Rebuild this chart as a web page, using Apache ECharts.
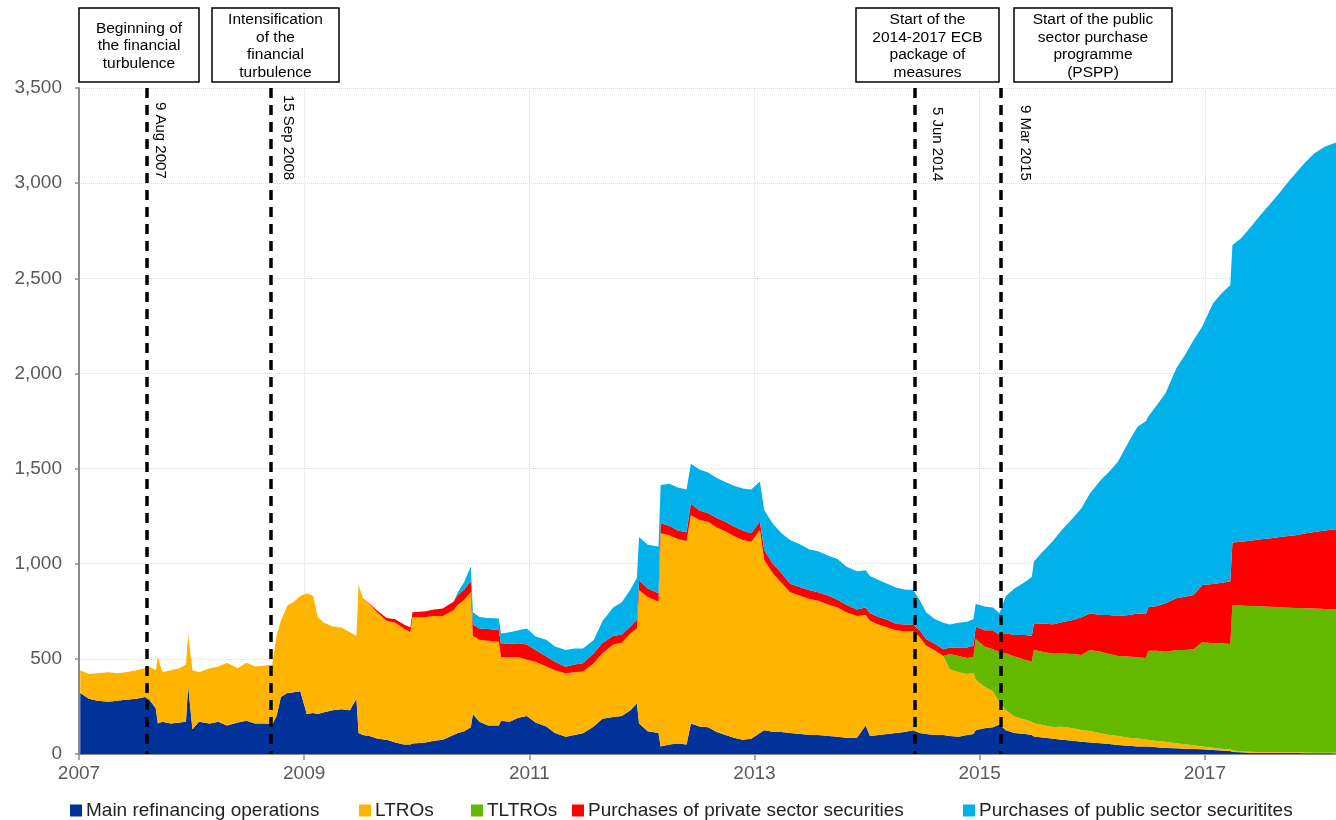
<!DOCTYPE html>
<html>
<head>
<meta charset="utf-8">
<title>Eurosystem monetary policy operations</title>
<script src="https://cdn.jsdelivr.net/npm/echarts@6/dist/echarts.min.js"></script>
<style>
  html, body { margin: 0; padding: 0; background: #fff; }
  #chart { width: 1336px; height: 820px; }
</style>
</head>
<body>
<div id="chart"></div>
<script>
// EUR billions (about monthly, with extra points at the jumps)
const dates = [
  '2007-01-05','2007-02-02','2007-03-02','2007-04-06','2007-05-04','2007-06-01','2007-07-06','2007-08-03','2007-08-17','2007-09-07',
  '2007-09-14','2007-09-28','2007-10-26','2007-11-23','2007-12-14','2007-12-21','2008-01-04','2008-01-25','2008-02-29','2008-03-28',
  '2008-04-25','2008-05-30','2008-06-27','2008-07-25','2008-08-29','2008-09-19','2008-10-03','2008-10-17','2008-11-07','2008-11-28',
  '2008-12-19','2009-01-09','2009-01-30','2009-02-13','2009-03-06','2009-04-03','2009-05-01','2009-05-29','2009-06-19','2009-06-26',
  '2009-07-10','2009-07-31','2009-08-28','2009-09-25','2009-10-23','2009-11-20','2009-12-11','2009-12-18','2010-01-29','2010-02-26',
  '2010-03-26','2010-04-30','2010-05-14','2010-06-04','2010-06-25','2010-07-02','2010-07-23','2010-08-20','2010-09-24','2010-10-01',
  '2010-10-29','2010-11-26','2010-12-24','2011-01-21','2011-02-25','2011-03-25','2011-04-29','2011-05-27','2011-06-24','2011-07-29',
  '2011-08-26','2011-09-30','2011-10-28','2011-11-25','2011-12-16','2011-12-23','2012-01-20','2012-02-24','2012-03-02','2012-03-30',
  '2012-04-27','2012-05-25','2012-06-08','2012-07-06','2012-08-03','2012-08-31','2012-09-28','2012-10-26','2012-11-23','2012-12-21',
  '2013-01-18','2013-02-01','2013-03-01','2013-03-29','2013-04-26','2013-05-31','2013-06-28','2013-07-26','2013-08-30','2013-09-27',
  '2013-10-25','2013-11-29','2013-12-27','2014-01-10','2014-02-07','2014-03-07','2014-04-04','2014-05-02','2014-05-30','2014-06-20',
  '2014-07-11','2014-08-08','2014-09-05','2014-09-26','2014-10-24','2014-11-21','2014-12-12','2014-12-19','2015-01-16','2015-02-13',
  '2015-03-06','2015-03-27','2015-04-24','2015-05-29','2015-06-19','2015-06-26','2015-07-31','2015-08-28','2015-09-25','2015-10-30',
  '2015-11-27','2015-12-25','2016-01-29','2016-02-26','2016-03-25','2016-04-29','2016-05-27','2016-06-24','2016-07-01','2016-07-29',
  '2016-08-26','2016-09-30','2016-10-28','2016-11-25','2016-12-23','2017-01-27','2017-02-24','2017-03-24','2017-03-31','2017-04-28',
  '2017-05-26','2017-06-30','2017-07-28','2017-08-25','2017-09-29','2017-10-27','2017-11-24','2017-12-22','2018-01-26','2018-03-02'
];
const mro = [
  320,290,280,275,280,285,290,300,285,240,
  160,170,160,165,170,360,130,170,160,170,
  150,165,175,160,160,155,200,300,320,325,
  330,210,215,210,220,230,235,230,290,110,
  100,95,80,75,60,50,50,55,60,70,
  75,100,110,120,140,210,170,150,150,175,
  170,190,200,165,145,110,91,100,109,144,
  185,195,200,230,265,160,120,110,40,50,
  55,50,160,145,140,115,100,85,75,80,
  110,125,117,115,110,105,100,100,95,90,
  85,85,150,95,100,105,110,115,125,110,
  105,100,100,95,90,100,105,125,135,140,
  155,125,110,105,100,92,85,80,75,70,
  65,61,56,53,47,44,40,39,39,35,
  32,30,28,26,25,21,18,16,11,9,
  7,7,6,6,5,5,4,4,4,4
];
const ltro = [
  120,130,145,155,145,145,150,150,175,200,
  350,260,280,285,300,270,310,260,290,290,
  330,285,305,300,305,315,420,400,460,475,
  500,635,615,510,470,440,430,410,330,780,
  720,695,660,625,630,610,590,663,660,655,
  650,655,675,690,710,410,430,445,440,335,
  340,320,295,320,315,330,333,330,324,333,
  345,380,385,405,395,700,705,690,1120,1100,
  1075,1070,1095,1085,1080,1075,1070,1060,1050,1035,
  1067,895,833,785,740,725,715,705,690,680,
  660,640,580,605,580,560,540,530,520,505,
  465,445,415,350,340,320,320,265,220,190,
  115,105,87,75,70,70,65,62,68,65,
  61,60,53,47,48,42,41,38,35,33,
  33,26,23,20,14,12,10,9,7,5,
  5,4,4,4,4,4,4,3,3,3
];
const tltro = [
  0,0,0,0,0,0,0,0,0,0,
  0,0,0,0,0,0,0,0,0,0,
  0,0,0,0,0,0,0,0,0,0,
  0,0,0,0,0,0,0,0,0,0,
  0,0,0,0,0,0,0,0,0,0,
  0,0,0,0,0,0,0,0,0,0,
  0,0,0,0,0,0,0,0,0,0,
  0,0,0,0,0,0,0,0,0,0,
  0,0,0,0,0,0,0,0,0,0,
  0,0,0,0,0,0,0,0,0,0,
  0,0,0,0,0,0,0,0,0,0,
  0,0,0,80,85,85,85,215,210,220,
  265,300,315,315,315,385,385,385,385,391,
  394,426,429,426,420,426,427,427,469,475,
  473,491,496,504,548,549,554,553,765,766,
  766,765,764,763,760,758,758,757,755,753
];
const privateSec = [
  0,0,0,0,0,0,0,0,0,0,
  0,0,0,0,0,0,0,0,0,0,
  0,0,0,0,0,0,0,0,0,0,
  0,0,0,0,0,0,0,0,0,0,
  0,2,10,15,18,20,25,27,30,35,
  40,45,50,55,60,60,60,62,62,68,
  70,72,80,62,53,45,35,40,44,52,
  53,45,43,35,45,53,45,45,52,50,
  45,45,60,50,45,50,50,50,50,45,
  45,52,50,50,45,45,45,45,45,40,
  40,35,40,40,40,40,35,35,35,35,
  35,35,35,35,45,55,60,65,85,100,
  90,105,113,130,135,140,150,155,165,178,
  198,192,193,205,210,219,231,235,228,235,
  254,271,280,286,301,312,318,328,328,336,
  343,352,359,366,377,384,394,403,412,421
];
const publicSec = [
  0,0,0,0,0,0,0,0,0,0,
  0,0,0,0,0,0,0,0,0,0,
  0,0,0,0,0,0,0,0,0,0,
  0,0,0,0,0,0,0,0,0,0,
  0,0,0,0,0,0,0,0,0,0,
  0,0,15,40,75,65,60,58,60,55,
  60,68,85,70,87,80,88,85,78,70,
  115,150,170,195,220,227,230,245,202,220,
  225,225,210,215,215,210,210,215,220,230,
  210,210,210,210,230,225,215,215,210,215,
  200,200,195,195,195,190,190,185,182,160,
  140,130,140,120,130,135,140,120,125,120,
  115,195,245,280,310,325,390,440,485,535,
  573,631,709,753,812,911,981,1011,1002,1056,
  1104,1209,1270,1340,1358,1475,1521,1559,1564,1594,
  1642,1705,1752,1799,1862,1910,1953,1990,2018,2032
];
const seriesNames = [
  'Main refinancing operations',
  'LTROs',
  'TLTROs',
  'Purchases of private sector securities',
  'Purchases of public sector securitites'
];
const eventDates = ['2007-08-09', '2008-09-15', '2014-06-05', '2015-03-09'];
const eventLabels = ['9 Aug 2007', '15 Sep 2008', '5 Jun 2014', '9 Mar 2015'];
const noteTexts = [
  'Beginning of\nthe financial\nturbulence',
  'Intensification\nof the\nfinancial\nturbulence',
  'Start of the\n2014-2017 ECB\npackage of\nmeasures',
  'Start of the public\nsector purchase\nprogramme\n(PSPP)'
];

const colors = ['#003299', '#FFB400', '#65B800', '#FF0000', '#00B1EA'];
const font = 'Arial, "Liberation Sans", sans-serif';
const greyText = '#595959';
const axisGrey = '#8c8c8c';

const chart = echarts.init(document.getElementById('chart'), null, { renderer: 'canvas' });

const values = [mro, ltro, tltro, privateSec, publicSec];

// label offsets along / away from each dashed line
const labelDist = [[14, 6], [7, 10], [19, 15], [17, 17]];
const eventLines = eventDates.map((d, i) => [
  { name: eventLabels[i], xAxis: d, yAxis: 3500, label: { distance: labelDist[i] } },
  { xAxis: d, yAxis: 0 }
]);

const series = values.map((arr, i) => {
  let s = {
    name: seriesNames[i],
    type: 'line',
    stack: 'total',
    xAxisIndex: 0,
    symbol: 'none',
    showSymbol: false,
    lineStyle: { width: 0 },
    areaStyle: { color: colors[i], opacity: 1 },
    itemStyle: { color: colors[i] },
    emphasis: { disabled: true },
    data: arr.map((v, k) => [dates[k], v])
  };
  if (i === values.length - 1) {
    s.markLine = {
      silent: true,
      symbol: ['none', 'none'],
      z: 10,
      lineStyle: { color: '#000', width: 3.5, type: [10, 7] },
      label: {
        show: true,
        position: 'insideStartTop',
        formatter: '{b}',
        color: '#000',
        fontSize: 15,
        fontFamily: font
      },
      data: eventLines
    };
  }
  return s;
});

// annotation boxes above the plot
const boxes = [
  { x: 79, w: 120 },
  { x: 212, w: 127 },
  { x: 856, w: 143 },
  { x: 1014, w: 158 }
];
const graphic = boxes.map((b, i) => ({
  type: 'group',
  x: b.x,
  y: 8,
  children: [
    { type: 'rect', shape: { x: 0, y: 0, width: b.w, height: 74 },
      style: { fill: '#fff', stroke: '#000', lineWidth: 1.5 } },
    { type: 'text', x: b.w / 2, y: 38,
      style: { text: noteTexts[i], align: 'center', verticalAlign: 'middle',
               fontSize: 15.5, fontFamily: font, lineHeight: 17.5, fill: '#000' } }
  ]
}));

// one legend per item, the gaps in the original are uneven
const legendLeft = [65, 354, 466, 567, 958];
const legend = seriesNames.map((n, i) => ({
  data: [n],
  left: legendLeft[i],
  top: 796,
  icon: 'rect',
  itemWidth: 12,
  itemHeight: 12,
  selectedMode: false,
  textStyle: { fontSize: 19, fontFamily: font, color: '#222', padding: [0, 0, 0, -1] }
}));

const option = {
  animation: false,
  backgroundColor: '#fff',
  color: colors,
  grid: { left: 79, right: 0, top: 88, bottom: 66, outerBoundsMode: 'none' },
  legend: legend,
  graphic: { elements: graphic },
  xAxis: [
    {
      type: 'time',
      min: '2007-01-01',
      max: '2018-03-02',
      show: false
    },
    {
      // year scale drawn over the same span, labels every second year
      type: 'value',
      min: 2007,
      max: 2018.165,
      interval: 2,
      position: 'bottom',
      axisLine: { show: true, lineStyle: { color: axisGrey, width: 2 } },
      axisTick: { show: true, inside: false, length: 6, lineStyle: { color: axisGrey, width: 1.5 } },
      axisLabel: {
        color: greyText, fontSize: 19, fontFamily: font, margin: 10,
        showMaxLabel: false,
        formatter: v => (Number.isInteger(v) ? String(v) : '')
      },
      splitLine: { show: true, lineStyle: { color: '#dcdcdc', type: 'dotted', width: 1 } }
    }
  ],
  yAxis: {
    type: 'value',
    min: 0,
    max: 3500,
    interval: 500,
    axisLine: { show: true, lineStyle: { color: axisGrey, width: 2 } },
    axisTick: { show: true, inside: false, length: 4, lineStyle: { color: axisGrey, width: 1.5 } },
    axisLabel: {
      color: greyText, fontSize: 19, fontFamily: font, margin: 17,
      formatter: v => v.toLocaleString('en-US')
    },
    splitLine: { show: true, lineStyle: { color: '#dcdcdc', type: 'dotted', width: 1 } }
  },
  series: series
};

chart.setOption(option);
</script>
</body>
</html>
